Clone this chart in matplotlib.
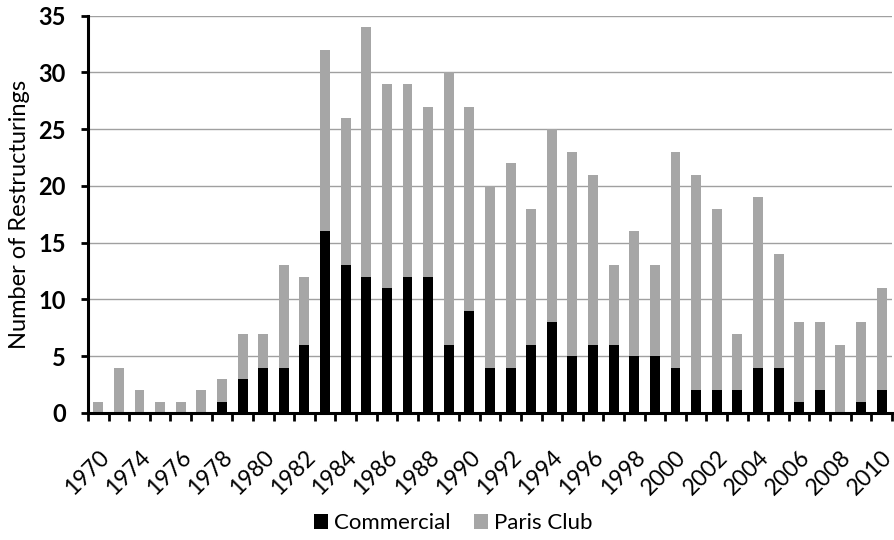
import matplotlib

matplotlib.use("Agg")
import matplotlib.pyplot as plt
import numpy as np

# Categorias (el segundo valor no lleva etiqueta visible)
years = ["1970", "1972"] + [str(y) for y in range(1974, 2011)]

commercial = [0, 0, 0, 0, 0, 0, 1, 3, 4, 4, 6, 16, 13, 12, 11, 12, 12, 6, 9, 4,
              4, 6, 8, 5, 6, 6, 5, 5, 4, 2, 2, 2, 4, 4, 1, 2, 0, 1, 2]
paris_club = [1, 4, 2, 1, 1, 2, 2, 4, 3, 9, 6, 16, 13, 22, 18, 17, 15, 24, 18, 16,
              18, 12, 17, 18, 15, 7, 11, 8, 19, 19, 16, 5, 15, 10, 7, 6, 6, 7, 9]

plt.rcParams["font.family"] = ["Lato", "DejaVu Sans"]

fig = plt.figure(figsize=(8.95, 5.4), dpi=100)
ax = fig.add_axes([0.0983, 0.2352, 0.8983, 0.7357])

x = np.arange(len(years))
ax.bar(x, commercial, width=0.48, color="black", label="Commercial", zorder=3)
ax.bar(x, paris_club, width=0.48, bottom=commercial, color="#a6a6a6",
       label="Paris Club", zorder=3)

ax.set_xlim(-0.5, len(years) - 0.5)
ax.set_ylim(0, 35)
ax.set_yticks(range(0, 36, 5))
ax.yaxis.grid(True, color="#a0a0a0", linewidth=1.0, zorder=0)

# Marcas en los limites de categoria, etiquetas cada dos categorias
ax.set_xticks(np.arange(-0.5, len(years), 1))
ax.set_xticklabels([])
ax.set_xticks(x[::2], minor=True)
ax.set_xticklabels(years[::2], minor=True, rotation=45, ha="right",
                   rotation_mode="anchor", fontsize=16.5)
ax.tick_params(axis="x", which="major", length=6, width=2, direction="out")
ax.tick_params(axis="x", which="minor", length=0, pad=24)
ax.tick_params(axis="y", length=5, width=2, direction="out", labelsize=17, pad=11)
for lbl in ax.get_yticklabels():
    lbl.set_fontweight("bold")

for side in ["top", "right"]:
    ax.spines[side].set_visible(False)
for side in ["left", "bottom"]:
    ax.spines[side].set_linewidth(2.2)
    ax.spines[side].set_zorder(4)

ax.set_ylabel("Number of Restructurings", fontsize=17, labelpad=6)

fig.legend(loc="center", bbox_to_anchor=(0.506, 0.031), ncol=2, frameon=False,
           fontsize=16, handlelength=0.65, handleheight=0.65, handletextpad=0.25,
           columnspacing=1.05)

fig.savefig("out.png", dpi=100)
